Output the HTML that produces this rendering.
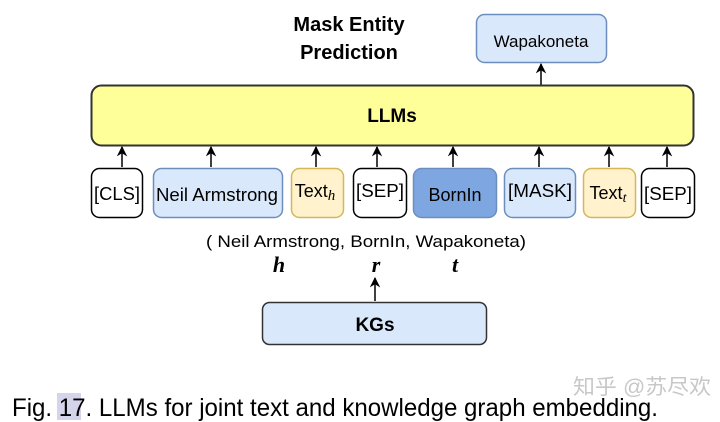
<!DOCTYPE html>
<html><head><meta charset="utf-8"><style>
html,body{margin:0;padding:0;background:#fff;width:720px;height:422px;overflow:hidden}
svg text{font-family:"Liberation Sans",Arial,sans-serif}
</style></head><body>
<svg width="720" height="422" viewBox="0 0 720 422" xmlns="http://www.w3.org/2000/svg">
<defs><marker id="a" viewBox="0 0 10 10" refX="9" refY="5" markerWidth="7" markerHeight="7" orient="auto"><path d="M0,0 L10,5 L0,10 L3,5 z" fill="#000"/></marker></defs>
<text x="349" y="31" font-size="20" font-weight="bold" text-anchor="middle">Mask Entity</text>
<text x="349" y="59" font-size="20" font-weight="bold" text-anchor="middle">Prediction</text>
<rect x="476.5" y="14.5" width="130" height="48" rx="8" fill="#dae8fc" stroke="#6c8ebf" stroke-width="1.5"/>
<text x="541" y="47" font-size="17" text-anchor="middle">Wapakoneta</text>
<line x1="541" y1="85" x2="541" y2="64" stroke="#000" stroke-width="1.5" marker-end="url(#a)"/>
<rect x="91.5" y="85.5" width="602" height="60" rx="10" fill="#ffff99" stroke="#333" stroke-width="2"/>
<text x="392" y="122" font-size="19" font-weight="bold" text-anchor="middle">LLMs</text>
<g stroke-width="1.5">
<rect x="91.5" y="168.5" width="51" height="49" rx="8" fill="#fff" stroke="#000"/>
<rect x="153.5" y="168.5" width="129" height="49" rx="8" fill="#dae8fc" stroke="#6c8ebf"/>
<rect x="291.5" y="168.5" width="52" height="49" rx="8" fill="#fff2cc" stroke="#d6b656"/>
<rect x="353.5" y="168.5" width="53" height="49" rx="8" fill="#fff" stroke="#000"/>
<rect x="413.5" y="168.5" width="83" height="49" rx="8" fill="#7ea6e0" stroke="#6c8ebf"/>
<rect x="504.5" y="168.5" width="71" height="49" rx="8" fill="#dae8fc" stroke="#6c8ebf"/>
<rect x="583.5" y="168.5" width="52" height="49" rx="8" fill="#fff2cc" stroke="#d6b656"/>
<rect x="641.5" y="168.5" width="53" height="49" rx="8" fill="#fff" stroke="#000"/>
</g>
<g font-size="18" text-anchor="middle">
<text x="117" y="200" textLength="46" lengthAdjust="spacingAndGlyphs">[CLS]</text>
<text x="217" y="201" textLength="122" lengthAdjust="spacingAndGlyphs">Neil Armstrong</text>
<text x="315" y="197">Text<tspan font-family="Liberation Serif" font-style="italic" font-size="15" dy="3">h</tspan></text>
<text x="380" y="197" textLength="48" lengthAdjust="spacingAndGlyphs">[SEP]</text>
<text x="455" y="201">BornIn</text>
<text x="540" y="197" textLength="64" lengthAdjust="spacingAndGlyphs">[MASK]</text>
<text x="608" y="199">Text<tspan font-family="Liberation Serif" font-style="italic" font-size="14" dy="3">t</tspan></text>
<text x="668" y="200" textLength="48" lengthAdjust="spacingAndGlyphs">[SEP]</text>
</g>
<g stroke="#000" stroke-width="1.5" marker-end="url(#a)">
<line x1="122" y1="167" x2="122" y2="147"/>
<line x1="211" y1="167" x2="211" y2="147"/>
<line x1="316" y1="167" x2="316" y2="147"/>
<line x1="377" y1="167" x2="377" y2="147"/>
<line x1="453" y1="167" x2="453" y2="147"/>
<line x1="539" y1="167" x2="539" y2="147"/>
<line x1="609" y1="167" x2="609" y2="147"/>
<line x1="667" y1="167" x2="667" y2="147"/>
<line x1="375" y1="301" x2="375" y2="278"/>
</g>
<text x="366" y="247" font-size="17" text-anchor="middle" textLength="320" lengthAdjust="spacingAndGlyphs">( Neil Armstrong, BornIn, Wapakoneta)</text>
<g font-style="italic" font-weight="bold" font-size="22" text-anchor="middle">
<text x="279" y="272" style="font-family:'Liberation Serif',serif">h</text>
<text x="376" y="272" style="font-family:'Liberation Serif',serif">r</text>
<text x="455" y="272" style="font-family:'Liberation Serif',serif">t</text>
</g>
<rect x="262.5" y="302.5" width="224" height="42" rx="7" fill="#dae8fc" stroke="#333" stroke-width="1.5"/>
<text x="375" y="331" font-size="19" font-weight="bold" text-anchor="middle">KGs</text>
<rect x="57" y="393" width="24" height="27" fill="#d4d4ea"/>
<text x="12" y="416" font-size="25" textLength="646" lengthAdjust="spacingAndGlyphs">Fig. 17. LLMs for joint text and knowledge graph embedding.</text>
<text x="573" y="394" font-size="21" fill="#c8c8c8" textLength="138" lengthAdjust="spacingAndGlyphs" style="font-family:'Liberation Sans','Noto Sans CJK SC',sans-serif">知乎 @苏尽欢</text>
</svg>
</body></html>
